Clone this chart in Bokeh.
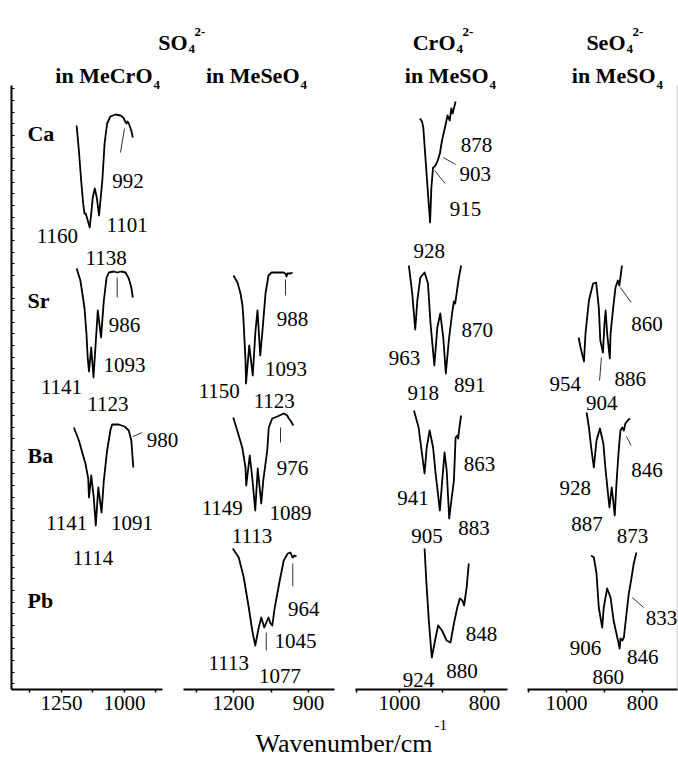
import numpy as np
from bokeh.plotting import figure
from bokeh.models import Range1d, FixedTicker, Label, LinearAxis
from bokeh.embed import file_html
from bokeh.resources import INLINE

FONT = "Liberation Serif"

# ---------------- spectra (wavenumber / cm-1, transmittance in stacked arbitrary units) ----------------
# Column 1: SO4(2-) in MeCrO4
ca1_wn = [1190, 1181, 1172, 1164, 1159, 1154, 1148, 1138, 1132, 1126, 1118, 1110, 1101, 1088, 1079, 1069,
          1056, 1036, 1016, 1005, 997, 992, 988, 983, 973, 967]
ca1_t = [564, 539, 509, 486, 476, 476, 471, 462, 476, 492, 501, 492, 474, 509, 546, 566,
         573, 575, 574, 572, 568, 566, 568, 566, 559, 552]
sr1_wn = [1190, 1175, 1159, 1151, 1146, 1141, 1132, 1123, 1106, 1093, 1082, 1071, 1062, 1042, 1029, 1013,
          996, 983, 973, 967]
sr1_t = [421, 409, 382, 356, 332, 318, 342, 312, 379, 352, 389, 412, 417, 418, 417, 418, 417, 411, 402, 392]
ba1_wn = [1201, 1181, 1162, 1155, 1144, 1141, 1132, 1122, 1114, 1104, 1091, 1082, 1069, 1056, 1049, 1023,
          1000, 983, 973, 965]
ba1_t = [262, 249, 232, 226, 211, 192, 214, 192, 164, 202, 177, 209, 239, 259, 265, 265, 263, 259, 249, 222]

# Column 2: SO4(2-) in MeSeO4
sr2_wn = [1200, 1184, 1172, 1164, 1160, 1156, 1152, 1150, 1137, 1123, 1112, 1104, 1093, 1084, 1072, 1060,
          1048, 1020, 1000, 992, 988, 984, 972, 964]
sr2_t = [414, 407, 396, 384, 369, 349, 329, 306, 344, 314, 359, 379, 334, 359, 396, 414,
         417, 417, 417, 416, 413, 416, 416, 417]
ba2_wn = [1201, 1185, 1165, 1152, 1149, 1135, 1125, 1113, 1103, 1089, 1081, 1065, 1059, 1045, 1025, 999,
          985, 979, 972, 961]
ba2_t = [272, 259, 242, 222, 204, 234, 212, 179, 221, 186, 209, 239, 262, 271, 273, 276, 274, 271, 269, 264]
pb2_wn = [1203, 1179, 1159, 1139, 1125, 1113, 1099, 1089, 1077, 1060, 1052, 1045, 1035, 1015, 999, 983,
          972, 964, 956, 948]
pb2_t = [141, 132, 112, 82, 59, 44, 62, 72, 62, 72, 66, 64, 82, 109, 129, 136, 137, 132, 134, 133]

# Column 3: CrO4(2-) in MeSO4
ca3_wn = [952, 947, 944, 939, 933, 928, 925, 921, 917, 913, 910, 905, 900, 892, 887, 882, 878, 875, 868]
ca3_t = [571, 568, 562, 532, 496, 467, 502, 522, 523, 526, 529, 536, 549, 564, 574, 569, 581, 576, 588]
sr3_wn = [978, 970, 963, 958, 951, 941, 933, 927, 918, 911, 904, 897, 891, 884, 876, 872, 869, 866, 861, 855]
sr3_t = [424, 396, 360, 389, 412, 417, 406, 366, 324, 362, 376, 352, 316, 349, 377, 388, 386, 395, 410, 424]
ba3_wn = [966, 955, 949, 941, 936, 929, 921, 915, 905, 900, 894, 889, 883, 878, 872, 868, 864, 862, 859, 855]
ba3_t = [279, 262, 242, 216, 242, 259, 242, 216, 179, 206, 237, 219, 171, 189, 209, 252, 254, 251, 262, 274]
pb3_wn = [941, 937, 931, 924, 915, 909, 900, 889, 880, 872, 864, 858, 852, 848, 842, 837]
pb3_t = [141, 109, 69, 32, 52, 64, 59, 49, 47, 66, 82, 91, 89, 84, 102, 126]

# Column 4: SeO4(2-) in MeSO4
sr4_wn = [968, 963, 954, 950, 941, 930, 922, 915, 911, 904, 900, 897, 893, 886, 884, 877, 871, 865, 861, 858, 854]
sr4_t = [352, 342, 328, 356, 389, 406, 407, 382, 349, 337, 366, 379, 356, 331, 356, 382, 402, 409, 404, 412, 424]
ba4_wn = [947, 941, 935, 928, 921, 912, 903, 897, 887, 881, 877, 873, 868, 862, 858, 853, 849, 845, 839, 833]
ba4_t = [277, 262, 242, 222, 249, 261, 246, 219, 182, 202, 189, 174, 209, 242, 259, 262, 259, 266, 269, 271]
pb4_wn = [935, 928, 921, 915, 906, 902, 893, 884, 876, 860, 858, 853, 849, 842, 836, 830, 823, 816]
pb4_t = [134, 132, 116, 82, 62, 82, 101, 92, 69, 41, 51, 49, 52, 76, 96, 109, 126, 137]

# ---------------- peak annotations ----------------
p1_txt = ["992", "1101", "1160", "1138", "986", "1093", "1141", "1123", "980", "1141", "1091", "1114"]
p1_x = [986, 990, 1266, 1073, 1000, 1000, 1250, 1066, 849, 1230, 970, 1125]
p1_y = [509, 465, 454, 432, 365, 325, 303, 286, 250, 167, 167, 132]
p1_lead = ([1000, 1029, 966], [561, 412, 253], [1016, 1029, 930], [537, 392, 257])

p2_txt = ["988", "1093", "1150", "1123", "976", "1149", "1089", "1113", "964", "1045", "1113", "1077"]
p2_x = [964, 990, 1257, 1037, 964, 1245, 972, 1126, 919, 952, 1219, 1014]
p2_y = [371, 321, 299, 289, 222, 182, 177, 154, 81, 49, 27, 14]
p2_lead = ([992, 1012, 963, 1069], [410, 262, 126, 57], [992, 1012, 963, 1069], [394, 247, 103, 39])

p3_txt = ["878", "903", "915", "928", "870", "963", "918", "891", "863", "941", "905", "883", "848", "924", "880"]
p3_x = [819, 822, 845, 930, 817, 988, 944, 835, 812, 968, 935, 825, 807, 955, 853]
p3_y = [545, 516, 481, 439, 360, 332, 297, 305, 226, 192, 154, 162, 56, 10, 19]
p3_lead = ([897, 917], [532, 519], [868, 893], [525, 506])

p4_txt = ["860", "954", "904", "886", "846", "928", "887", "873", "833", "906", "846", "860"]
p4_x = [788, 1003, 907, 832, 788, 977, 946, 826, 750, 950, 799, 890]
p4_y = [366, 306, 287, 311, 220, 202, 166, 154, 72, 42, 33, 13]
p4_lead = ([858, 908, 842, 827], [402, 332, 253, 92], [830, 913, 830, 797], [387, 309, 244, 82])

row_names = ["Ca", "Sr", "Ba", "Pb"]
row_name_y = [556, 389, 234, 89]

# axis ticks per column
p1_ticks, p1_shown = [1375, 1250, 1125, 1000, 875], [1250, 1000]
p2_ticks, p2_shown = [1350, 1200, 1050, 900], [1200, 900]
p3_ticks, p3_shown = [1100, 1000, 900, 800], [1000, 800]
p4_ticks, p4_shown = [1100, 1000, 900, 800], [1000, 800]

# ---------------- one canvas, one wavenumber scale per column ----------------
p = figure(width=678, height=758, x_range=Range1d(0, 678), y_range=Range1d(758, 0),
           output_backend="svg", toolbar_location=None, x_axis_location=None, y_axis_location=None,
           min_border=0, title=None)
p.grid.visible = False
p.outline_line_color = None
p.background_fill_color = "white"
p.border_fill_color = "white"

p.extra_y_ranges = {"spec": Range1d(-69, 689)}
p.extra_x_ranges = {
    "w1": Range1d(1492.05, -1198.4),   # panel frame 1448.4 .. 849.2
    "w2": Range1d(2132.0, -580.0),     # panel frame 1400 .. 796
    "w3": Range1d(1938.7, 343.6),      # panel frame 1103.5 .. 745.9
    "w4": Range1d(2489.7, 705.2),      # panel frame 1102.6 .. 707.8
}
panel_bounds = {"w1": (849.2, 1448.4), "w2": (796.0, 1400.0), "w3": (745.9, 1103.5), "w4": (707.8, 1102.6)}


def add_x_axis(rname, ticks, shown):
    ax = LinearAxis(x_range_name=rname, y_range_name="spec", fixed_location=0,
                    bounds=panel_bounds[rname], ticker=FixedTicker(ticks=ticks),
                    major_label_overrides={t: (str(t) if t in shown else "") for t in ticks},
                    axis_line_width=2, axis_line_color="black",
                    major_tick_line_width=1.5, major_tick_line_color="black",
                    major_tick_out=3, major_tick_in=0, minor_tick_line_color=None,
                    major_label_text_font=FONT, major_label_text_font_size="21px",
                    major_label_text_color="black", major_label_standoff=3)
    p.add_layout(ax, "below")


add_x_axis("w1", p1_ticks, p1_shown)
add_x_axis("w2", p2_ticks, p2_shown)
add_x_axis("w3", p3_ticks, p3_shown)
add_x_axis("w4", p4_ticks, p4_shown)

yax = LinearAxis(y_range_name="spec", x_range_name="w1", fixed_location=1448.4, bounds=(0, 604),
                 ticker=FixedTicker(ticks=[float(v) for v in np.arange(600.7, 0, -11.67)]),
                 major_tick_in=3, major_tick_out=0, major_label_text_font_size="0px",
                 major_label_text_alpha=0, major_label_standoff=0, axis_line_width=2,
                 axis_line_color="black", major_tick_line_width=1, major_tick_line_color="black",
                 minor_tick_line_color=None)
p.add_layout(yax, "left")

spectra = {
    "w1": [(ca1_wn, ca1_t), (sr1_wn, sr1_t), (ba1_wn, ba1_t)],
    "w2": [(sr2_wn, sr2_t), (ba2_wn, ba2_t), (pb2_wn, pb2_t)],
    "w3": [(ca3_wn, ca3_t), (sr3_wn, sr3_t), (ba3_wn, ba3_t), (pb3_wn, pb3_t)],
    "w4": [(sr4_wn, sr4_t), (ba4_wn, ba4_t), (pb4_wn, pb4_t)],
}
for rname, curves in spectra.items():
    for wn, t in curves:
        p.line(wn, t, x_range_name=rname, y_range_name="spec",
               line_color="black", line_width=1.8, line_join="round")

peaks = {
    "w1": (p1_txt, p1_x, p1_y, p1_lead),
    "w2": (p2_txt, p2_x, p2_y, p2_lead),
    "w3": (p3_txt, p3_x, p3_y, p3_lead),
    "w4": (p4_txt, p4_x, p4_y, p4_lead),
}
for rname, (txt, xs, ys, lead) in peaks.items():
    for s, x, y in zip(txt, xs, ys):
        p.add_layout(Label(x=x, y=y, text=s, x_range_name=rname, y_range_name="spec",
                           text_font=FONT, text_font_size="21px", text_align="center",
                           text_baseline="alphabetic", text_color="black"))
    x0, y0, x1, y1 = lead
    p.segment(x0=x0, y0=y0, x1=x1, y1=y1, x_range_name=rname, y_range_name="spec",
              line_color="#333333", line_width=1)

for name, y in zip(row_names, row_name_y):
    p.add_layout(Label(x=1385, y=y, text=name, x_range_name="w1", y_range_name="spec",
                       text_font=FONT, text_font_size="22px", text_font_style="bold",
                       text_align="left", text_baseline="alphabetic", text_color="black"))

# faint right frame line of the last column
p.segment(x0=[708.6], y0=[-1], x1=[708.6], y1=[604], x_range_name="w4", y_range_name="spec",
          line_color="#c8c8c8", line_width=1)


# ---------------- headers and x title (page coordinates) ----------------
def htext(x, y, s, size, align="left", bold=True):
    p.add_layout(Label(x=x, y=y, text=s, text_font=FONT, text_font_size=size,
                       text_font_style="bold" if bold else "normal",
                       text_align=align, text_baseline="alphabetic", text_color="black"))


MAIN, SMALL = "22px", "13px"
for txt, xr_ in [("SO", 187), ("CrO", 455), ("SeO", 625)]:
    htext(xr_, 42, txt, MAIN, "right")
    htext(xr_ + 1, 48, "4", SMALL)
    htext(xr_ + 7, 31, "2-", SMALL)
for txt, xr_ in [("in MeCrO", 152), ("in MeSeO", 299), ("in MeSO", 488), ("in MeSO", 655)]:
    htext(xr_, 75, txt, MAIN, "right")
    htext(xr_ + 1, 84, "4", SMALL)

htext(432, 743, "Wavenumber/cm", "26px", "right", bold=False)
htext(434, 724, "-1", "15px", "left", bold=False)

with open("out.html", "w") as f:
    f.write(file_html(p, INLINE))
